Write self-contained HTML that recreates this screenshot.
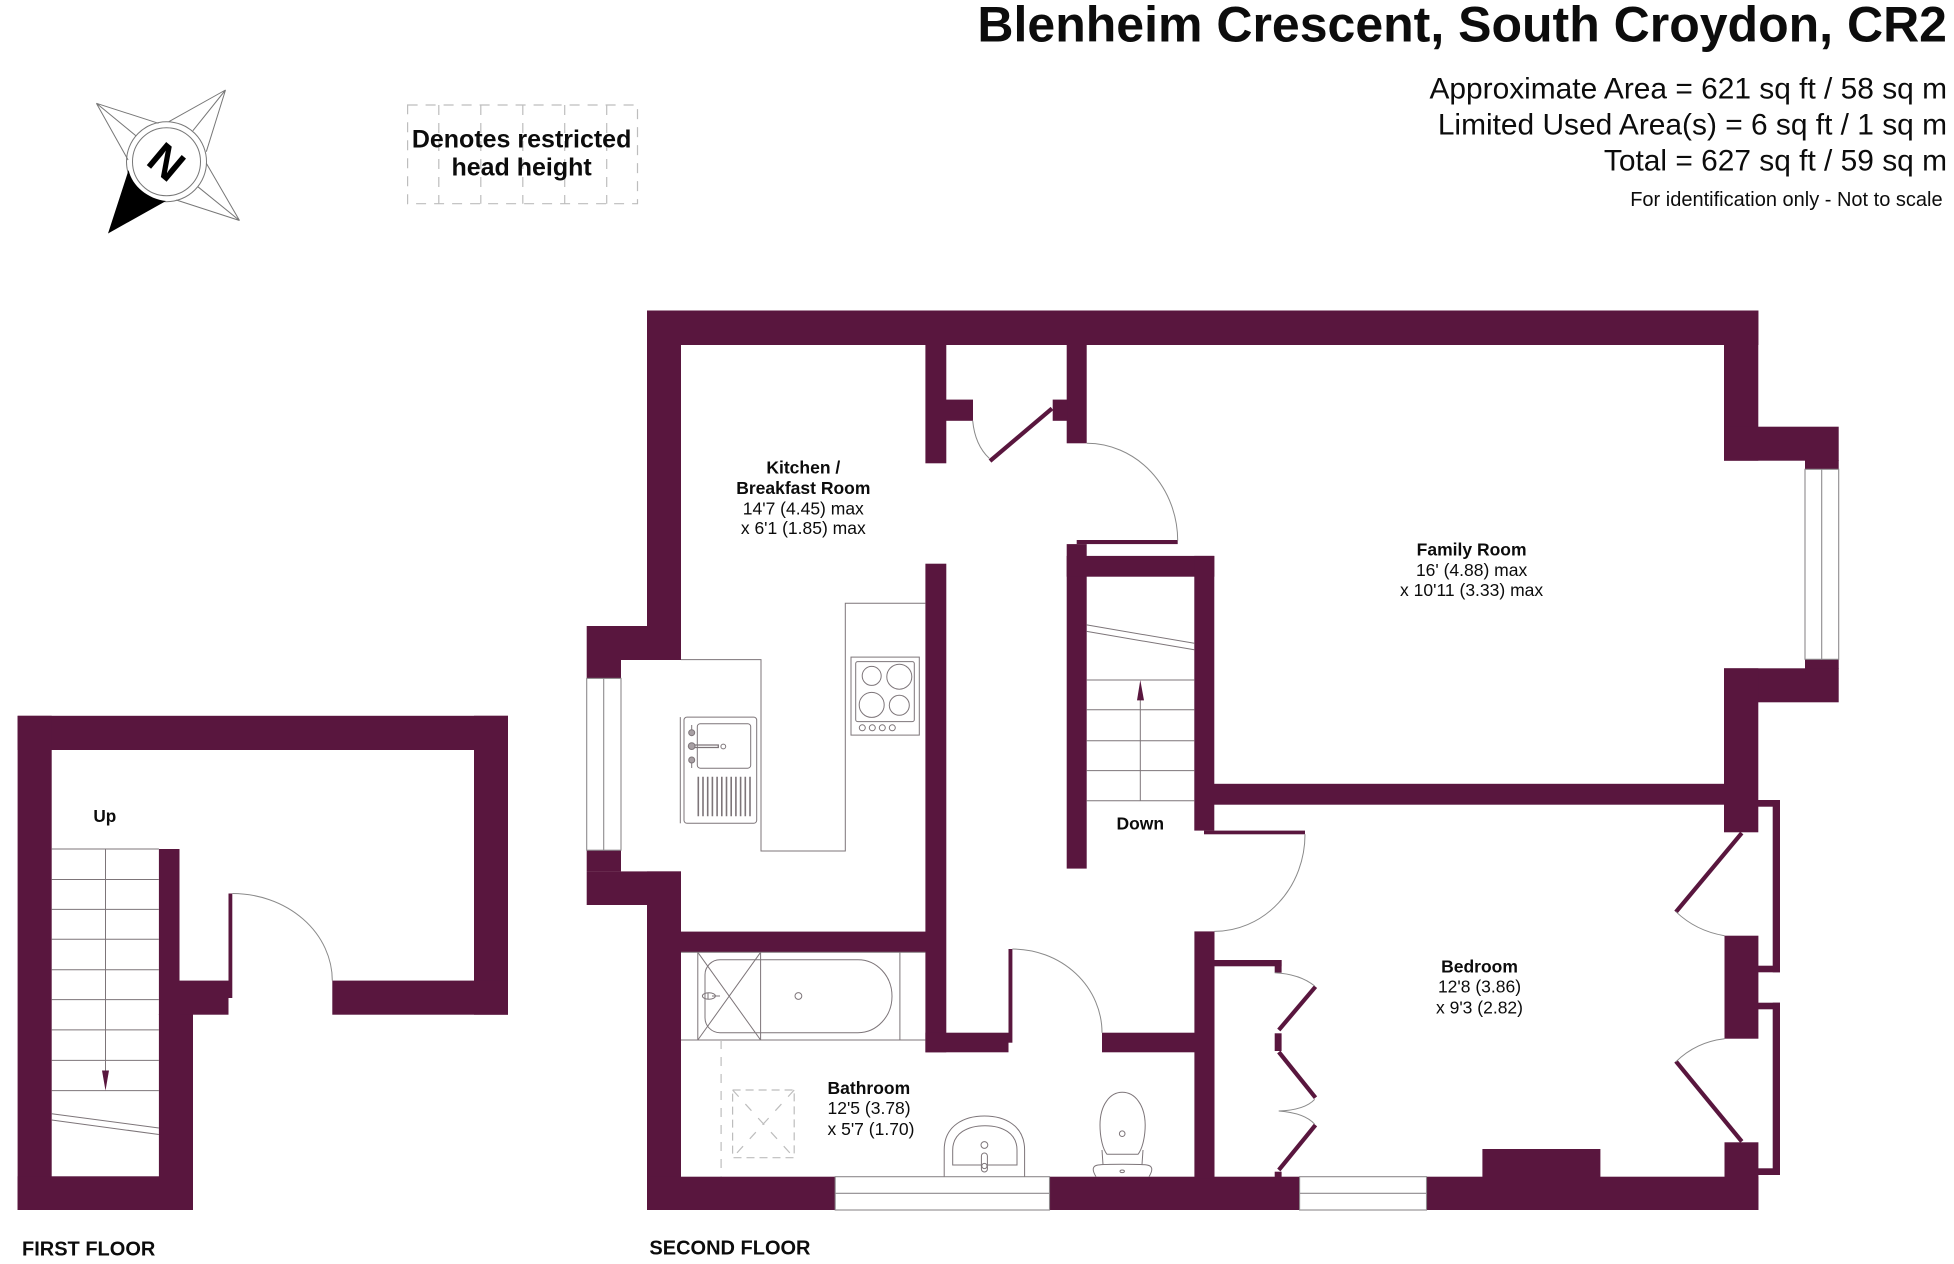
<!DOCTYPE html>
<html lang="en">
<head>
<meta charset="utf-8">
<title>Blenheim Crescent, South Croydon, CR2</title>
<style>
html,body{margin:0;padding:0;background:#fff;width:1954px;height:1264px;overflow:hidden}
svg{display:block}
text{font-family:"Liberation Sans",Arial,sans-serif;fill:#0c0c0c}
.b{font-weight:700}
.m{text-anchor:middle}
.e{text-anchor:end}
.r{font-size:17.5px}
.w{fill:#59163e}
.l{fill:none;stroke:#8e8a8d;stroke-width:1.1}
.d{fill:none;stroke:#8a8a8a;stroke-width:1}
.k{fill:none;stroke:#7d7579;stroke-width:1}
.leaf{fill:none;stroke:#59163e;stroke-width:4.2}
.dash{fill:none;stroke:#bdbdbd;stroke-width:1.2;stroke-dasharray:10 8}
</style>
</head>
<body>
<svg width="1954" height="1264" viewBox="0 0 1954 1264" xmlns="http://www.w3.org/2000/svg">
<rect width="1954" height="1264" fill="#fff"/>

<!-- Title block -->
<text class="b e" x="1947" y="41.7" font-size="50">Blenheim Crescent, South Croydon, CR2</text>
<text class="e" x="1947" y="98.3" font-size="29.9">Approximate Area = 621 sq ft / 58 sq m</text>
<text class="e" x="1947" y="134.3" font-size="29.9">Limited Used Area(s) = 6 sq ft / 1 sq m</text>
<text class="e" x="1947" y="170.7" font-size="29.9">Total = 627 sq ft / 59 sq m</text>
<text class="e" x="1942.6" y="206" font-size="20">For identification only - Not to scale</text>

<!-- Compass -->
<g fill="none" stroke="#777" stroke-width="1">
<path d="M96.4 103.3L158.5 123.3M96.4 103.3L128.1 160M96.4 103.3L136.2 136"/>
<path d="M225.5 90L168.8 121.7M225.5 90L206.3 151.7M225.5 90L192.9 130.7"/>
<path d="M239.5 220.5L206.3 163.3M239.5 220.5L176.3 200M239.5 220.5L197.8 186.7"/>
<circle cx="166.5" cy="161.7" r="40"/>
<circle cx="166.5" cy="161.7" r="34"/>
</g>
<path d="M108 233.5L128.6 170C132 186 148 199 166 201Z" fill="#000"/>
<text class="b m" x="166.5" y="177" font-size="44" transform="rotate(40 166.5 161.7)" style="fill:#000">N</text>

<!-- Restricted head height legend -->
<g class="dash">
<rect x="407.6" y="105" width="229.9" height="98.7"/>
<path d="M438.8 105V203.7M480.8 105V203.7M522.8 105V203.7M564.7 105V203.7M606.7 105V203.7"/>
</g>
<text class="b m" x="521.6" y="147.7" font-size="25">Denotes restricted</text>
<text class="b m" x="521.6" y="175.7" font-size="25">head height</text>

<!-- FIRST FLOOR -->
<g class="w">
<rect x="17.6" y="715.8" width="490.4" height="34.2"/>
<rect x="17.6" y="715.8" width="34.1" height="494.2"/>
<rect x="474" y="715.8" width="34" height="298.9"/>
<rect x="332.3" y="980.6" width="175.7" height="34.1"/>
<rect x="17.6" y="1176.3" width="175.4" height="33.7"/>
<rect x="158.9" y="849" width="20.6" height="166"/>
<rect x="158.9" y="1014" width="34.1" height="196"/>
<rect x="179.5" y="980.6" width="49" height="34.1"/>
<rect x="228.5" y="893.5" width="3.8" height="104.5"/>
</g>
<g class="k">
<path d="M51.7 849H158.9M51.7 879.5H158.9M51.7 909.4H158.9M51.7 939.2H158.9M51.7 969.8H158.9M51.7 999.6H158.9M51.7 1029.9H158.9M51.7 1060.4H158.9M51.7 1090.6H158.9"/>
<path d="M51.7 1113.7L158.9 1128M51.7 1120L158.9 1134.5"/>
<path d="M105.5 849V1072"/>
</g>
<path d="M102 1070.5H109L105.5 1090.6Z" fill="#59163e"/>
<path class="d" d="M232.3 893.5A100 87.1 0 0 1 332.3 980.6"/>
<text class="b m" x="104.8" y="822" font-size="17.2">Up</text>
<text class="b" x="22" y="1255.7" font-size="20">FIRST FLOOR</text>

<!-- SECOND FLOOR walls -->
<g class="w">
<rect x="647" y="310.5" width="1111.4" height="34.5"/>
<rect x="647" y="310.5" width="34" height="349.5"/>
<rect x="586.7" y="626" width="94.3" height="34"/>
<rect x="586.7" y="660" width="34.3" height="18.4"/>
<rect x="586.7" y="850.2" width="34.3" height="21.2"/>
<rect x="586.7" y="871.4" width="94.3" height="33.6"/>
<rect x="647" y="871.4" width="34" height="338.6"/>
<rect x="647" y="1176.7" width="188.2" height="33.3"/>
<rect x="1049.5" y="1176.7" width="250.1" height="33.3"/>
<rect x="1426.5" y="1176.7" width="331.9" height="33.3"/>
<rect x="1482.4" y="1149" width="118" height="30"/>
<!-- kitchen / cupboard partitions -->
<rect x="925.4" y="345" width="20.9" height="118.3"/>
<rect x="946" y="399.6" width="27" height="21.2"/>
<rect x="1066.7" y="345" width="20" height="98.3"/>
<rect x="1052.7" y="399.6" width="15" height="21.2"/>
<rect x="925.4" y="563.7" width="20.9" height="488.6"/>
<rect x="681" y="931.6" width="245" height="20.7"/>
<rect x="925.4" y="1032.7" width="83.1" height="19.6"/>
<rect x="1008.5" y="949" width="3.9" height="93.7"/>
<rect x="1102" y="1032.7" width="93" height="19.6"/>
<!-- stairs box -->
<rect x="1066.7" y="544.1" width="20" height="324.5"/>
<rect x="1076.7" y="540" width="101" height="4.1"/>
<rect x="1066.7" y="555.9" width="147.6" height="20.8"/>
<rect x="1194.3" y="555.9" width="20" height="274.7"/>
<rect x="1204" y="830.6" width="101" height="3.7"/>
<rect x="1214" y="783.8" width="544" height="20.9"/>
<rect x="1194.4" y="931.4" width="20.1" height="247"/>
<!-- right wall + bay -->
<rect x="1724" y="310.5" width="34.3" height="150.2"/>
<rect x="1724" y="426.7" width="114.7" height="34"/>
<rect x="1805" y="460" width="33.7" height="9.3"/>
<rect x="1805" y="659.3" width="33.7" height="9.5"/>
<rect x="1724" y="668.3" width="114.7" height="34"/>
<rect x="1724" y="668.3" width="34.3" height="164"/>
<rect x="1724.5" y="935.7" width="33.9" height="103"/>
<rect x="1724.5" y="1142.3" width="33.9" height="67.7"/>
<!-- balcony rails -->
<rect x="1758" y="800" width="22" height="6.7"/>
<rect x="1772.7" y="800" width="7.3" height="172.3"/>
<rect x="1758" y="965.7" width="22" height="6.6"/>
<rect x="1758" y="1002.7" width="22" height="6.6"/>
<rect x="1772.7" y="1002.7" width="7.3" height="172.3"/>
<rect x="1758" y="1168.3" width="22" height="6.7"/>
<!-- closet -->
<rect x="1214" y="960" width="67.6" height="6.3"/>
<rect x="1274.7" y="960" width="6.9" height="12.7"/>
<rect x="1274.7" y="1033.3" width="6.9" height="17.7"/>
<rect x="1274.7" y="1171.7" width="6.9" height="6"/>
</g>

<!-- Door leaves -->
<g class="leaf">
<path d="M1052 408.5L990 461"/>
<path d="M1741.8 833L1675.9 912"/>
<path d="M1675.9 1061.3L1741.8 1141.5"/>
<path d="M1315.5 986.7L1278.8 1030"/>
<path d="M1278.8 1052L1315.5 1097.7"/>
<path d="M1315.5 1125L1278.8 1170"/>
</g>

<!-- Door arcs -->
<g class="d">
<path d="M1086.7 443.3A91 97.5 0 0 1 1177.7 540.8"/>
<path d="M1305 834.3A90.7 97 0 0 1 1214.3 931.4"/>
<path d="M1012.4 949A89.6 83.7 0 0 1 1102 1032.7"/>
<path d="M972.7 420.8Q975 445 989.3 458.4"/>
<path d="M1675.9 911.7Q1696 931 1724.5 935.7"/>
<path d="M1675.9 1061.7Q1696 1042 1724.5 1038.7"/>
<path d="M1274.7 972.7Q1300 974 1314.7 986"/>
<path d="M1314.7 1099.3Q1305 1110 1278.8 1111"/>
<path d="M1278.8 1111Q1305 1113 1314.7 1124.3"/>
</g>

<!-- Windows -->
<g class="l">
<rect x="586.7" y="678.4" width="34.3" height="171.8"/>
<path d="M603.7 678.4V850.2"/>
<rect x="1805" y="469.3" width="33.7" height="190"/>
<path d="M1821.7 469.3V659.3"/>
<rect x="835.2" y="1176.7" width="214.3" height="33.3"/>
<path d="M835.2 1193.3H1049.5"/>
<rect x="1299.6" y="1176.7" width="126.9" height="33.3"/>
<path d="M1299.6 1193.3H1426.5"/>
</g>

<!-- Stairs second floor -->
<g class="k">
<path d="M1086.7 680H1194.3M1086.7 709.8H1194.3M1086.7 740.8H1194.3M1086.7 770.6H1194.3M1086.7 800.8H1194.3"/>
<path d="M1086.7 624.9L1194.3 643.3M1086.7 631.4L1194.3 649.8"/>
<path d="M1140.3 800.8V698"/>
</g>
<path d="M1137 700.4H1144L1140.3 680Z" fill="#59163e"/>

<!-- Kitchen fittings -->
<g class="k">
<path d="M925.4 603.3H845.3V851H761V659.6H681"/>
<rect x="851" y="657.1" width="68.3" height="78"/>
<rect x="855.7" y="661.6" width="58.6" height="60" rx="2"/>
<ellipse cx="871.7" cy="675.9" rx="9.5" ry="9.5"/>
<circle cx="899.3" cy="676.7" r="12.5"/>
<circle cx="871.7" cy="704.9" r="12.5"/>
<circle cx="899.3" cy="705.3" r="10"/>
<circle cx="862.3" cy="727.8" r="3"/>
<circle cx="872.3" cy="727.8" r="3"/>
<circle cx="882.3" cy="727.8" r="3"/>
<circle cx="892.3" cy="727.8" r="3"/>
<path d="M680.3 717.1V823.3"/>
<rect x="684" y="717.1" width="72.7" height="106.2" rx="3"/>
<rect x="697.3" y="723.7" width="53.4" height="44.5" rx="3"/>
<circle cx="691.7" cy="746.1" r="3.4" fill="#a8a0a4"/>
<circle cx="723.3" cy="746.5" r="2.4"/>
<circle cx="691.7" cy="732.7" r="3" fill="#a8a0a4"/>
<circle cx="691.7" cy="760" r="3" fill="#a8a0a4"/>
<path d="M695 745H718.3V747.5H695" stroke-width="1.3"/>
<path d="M691.7 725V729.5M691.7 763V768"/>
<path d="M698.3 776.7V816.3M703 776.7V816.3M707.7 776.7V816.3M712.4 776.7V816.3M717.1 776.7V816.3M721.8 776.7V816.3M726.5 776.7V816.3M731.2 776.7V816.3M735.9 776.7V816.3M740.6 776.7V816.3M745.3 776.7V816.3M750 776.7V816.3" stroke-width="1.6"/>
</g>

<!-- Bathroom fittings -->
<g class="k">
<path d="M681 952.3H925.5M681 1040H925.5"/>
<path d="M697.8 952.3V1040M760.6 952.3V1040M899.9 952.3V1040"/>
<path d="M697.8 952.3L760.6 1040M760.6 952.3L697.8 1040"/>
<path d="M720 959.7H858A34 36.5 0 0 1 858 1032.7H720A15 15 0 0 1 705 1017.7V974.7A15 15 0 0 1 720 959.7Z"/>
<circle cx="798.4" cy="996" r="3.4"/>
<ellipse cx="708.9" cy="996" rx="6.5" ry="3.2"/>
<path d="M708 993V999M712 996H720"/>
<path d="M944.2 1176.7V1150C944.2 1125 965 1116 984.4 1116C1004 1116 1024.6 1125 1024.6 1150V1176.7"/>
<path d="M952.7 1165V1150C952.7 1133 968 1125.7 985 1125.7C1002 1125.7 1017 1133 1017 1150V1165Z"/>
<circle cx="984.4" cy="1145" r="3.4"/>
<rect x="981.4" y="1153" width="6" height="19" rx="3" fill="#fff"/>
<circle cx="984.4" cy="1166" r="2.6"/>
<path d="M1122.2 1092.3C1135 1092.3 1145 1105 1145.2 1125C1145.2 1135 1143 1148 1138 1154.3H1107C1102 1148 1100 1135 1100 1125C1100 1105 1110 1092.3 1122.2 1092.3Z"/>
<circle cx="1122.2" cy="1133.7" r="2.8"/>
<path d="M1096 1176.7C1092 1170 1092 1166 1098 1165C1105 1164 1140 1164 1147 1165C1153 1166 1153 1170 1149 1176.7"/>
<path d="M1102 1150L1103 1164.5M1143 1150L1142 1164.5"/>
<ellipse cx="1122.2" cy="1171.3" rx="2.2" ry="1.3"/>
</g>
<g class="dash">
<path d="M721.1 1040V1176.7" stroke-dasharray="9 8"/>
<rect x="732.6" y="1090" width="61.6" height="67.7" stroke-dasharray="8 5"/>
<path d="M732.6 1090L794.2 1157.7M794.2 1090L732.6 1157.7" stroke-dasharray="9 10"/>
</g>

<!-- Room labels -->
<g class="r">
<text class="b m" x="803.3" y="473.5">Kitchen /</text>
<text class="b m" x="803.3" y="493.9">Breakfast Room</text>
<text class="m" x="803.3" y="514.3">14'7 (4.45) max</text>
<text class="m" x="803.3" y="533.9">x 6'1 (1.85) max</text>

<text class="b m" x="1471.6" y="555.5">Family Room</text>
<text class="m" x="1471.6" y="575.8">16' (4.88) max</text>
<text class="m" x="1471.6" y="596">x 10'11 (3.33) max</text>

<text class="b m" x="1140.3" y="829.4">Down</text>

<text class="b" x="827.5" y="1094">Bathroom</text>
<text x="827.5" y="1114">12'5 (3.78)</text>
<text x="827.5" y="1135">x 5'7 (1.70)</text>

<text class="b m" x="1479.5" y="972.7">Bedroom</text>
<text class="m" x="1479.5" y="992.7">12'8 (3.86)</text>
<text class="m" x="1479.5" y="1013.3">x 9'3 (2.82)</text>
</g>
<text class="b" x="649.4" y="1254.3" font-size="20">SECOND FLOOR</text>
</svg>
</body>
</html>
